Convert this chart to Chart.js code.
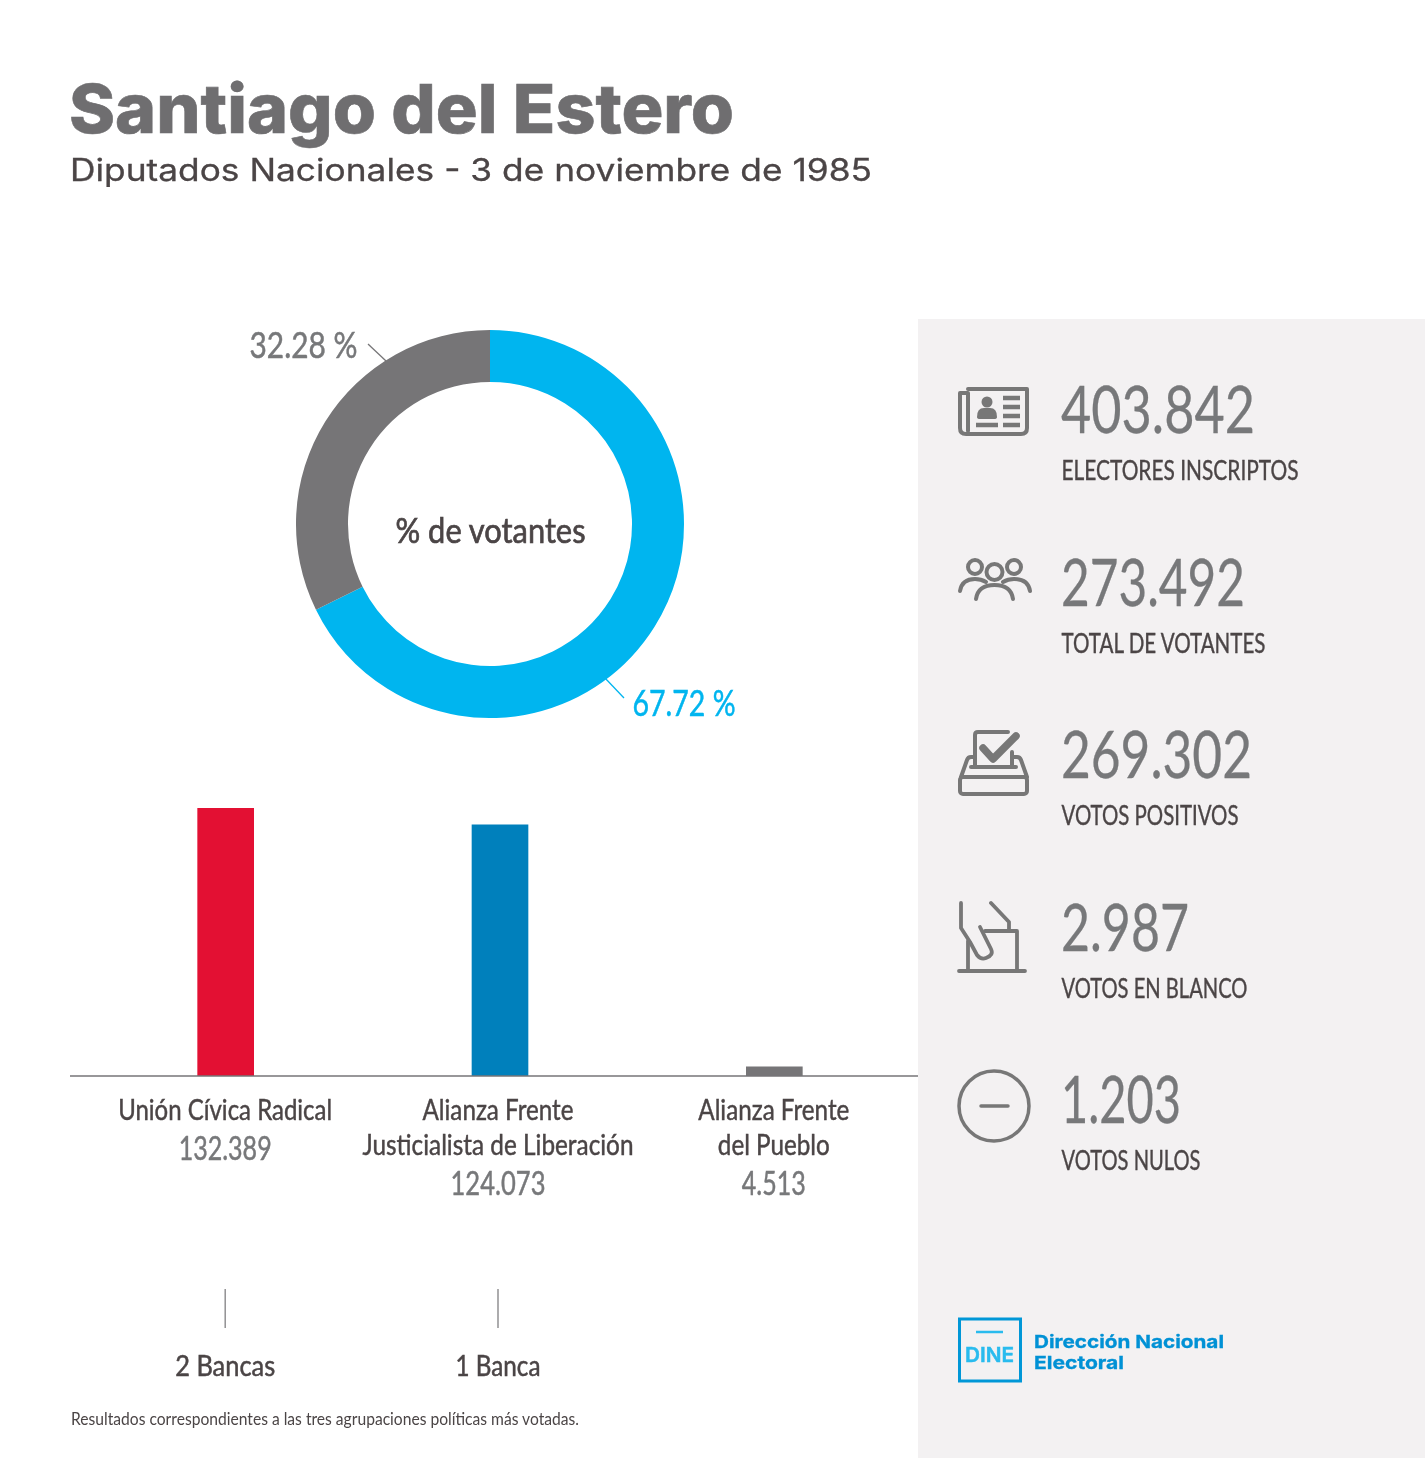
<!DOCTYPE html>
<html lang="es">
<head>
<meta charset="utf-8">
<title>Santiago del Estero</title>
<script src="https://cdn.jsdelivr.net/npm/chart.js@4"></script>
<style>
  html, body { margin: 0; padding: 0; background: #fff; }
  #page { position: relative; width: 1425px; height: 1458px; overflow: hidden; }
  #panel { position: absolute; left: 918px; top: 319px; width: 507px; height: 1139px; background: #f3f1f2; }
  canvas { position: absolute; }
  #donut { left: 295.5px; top: 329.5px; }
  #bars { left: 71px; top: 808px; }
  #overlay { position: absolute; left: 0; top: 0; }
  .icon { fill: none; stroke: #777; stroke-width: 3.5; stroke-linecap: round; stroke-linejoin: round; }
  .icon .solid { fill: #777; stroke: none; }
</style>
</head>
<body>
<div id="page">
  <div id="panel"></div>
  <canvas id="donut" width="388" height="388"></canvas>
  <canvas id="bars" width="847" height="268"></canvas>
  <svg id="overlay" width="1425" height="1458" xmlns="http://www.w3.org/2000/svg">
    <!-- padron -->
    <g class="icon">
      <path d="M968 389H1027V428Q1027 434 1021 434H966Q960 434 960 428V393H968V431" stroke-width="4"/>
      <circle class="solid" cx="987" cy="402" r="5.5"/>
      <path class="solid" d="M977 417Q977 408 984 408H990Q997 408 997 417Q997 419 994 419H980Q977 419 977 417Z"/>
      <path d="M1003 398H1020M1003 407H1020M1003 416H1020M1003 425H1020M976 425H998" stroke-linecap="butt" stroke-width="4.500"/>
    </g>
    <!-- votantes -->
    <g class="icon" style="stroke-width:4">
      <circle cx="975" cy="567" r="7"/>
      <circle cx="994.5" cy="572" r="8"/>
      <circle cx="1014" cy="567" r="7"/>
      <path d="M960 591Q962 579 975 579Q981 579 986 582"/>
      <path d="M976 599Q978 585 994.500 585Q1011 585 1013 599"/>
      <path d="M1030 591Q1028 579 1014 579Q1008 579 1003 582"/>
    </g>
    <!-- urna con tilde -->
    <g class="icon" style="stroke-width:4">
      <rect x="960" y="777" width="67" height="17" rx="3"/>
      <path d="M961 777L967 760Q968 757 971 757H975M1012 757H1017Q1020 757 1021 760L1027 777"/>
      <path d="M975 766V735Q975 732 978 732H1008M1012 752V766M971 767H1016"/>
      <path d="M983 748L993 759L1016 736" stroke-width="7.500"/>
    </g>
    <!-- voto en blanco -->
    <g class="icon" style="stroke-width:3.800">
      <path d="M961 903V928L970 942L977 955Q981 960 986 958Q994 955 991 949L980 927"/>
      <path d="M968 941V970M985 931H1017V970M959 971H1025M991 903L1009 922V931"/>
    </g>
    <!-- voto nulo -->
    <g class="icon">
      <circle cx="994" cy="1106" r="35"/>
      <path d="M981 1106H1008"/>
    </g>
    <!-- logo -->
    <rect x="959.500" y="1319" width="61" height="62" fill="none" stroke="#0097d7" stroke-width="3"/>
    <path d="M976 1332H1003" stroke="#29bbee" stroke-width="2.500"/>
  </svg>
</div>
<script>
// datos
var turnoutLabels = ['Votantes', 'No votantes'];
var turnoutShare = [67.72, 32.28];
var parties = [['Unión Cívica Radical'], ['Alianza Frente', 'Justicialista de Liberación'], ['Alianza Frente', 'del Pueblo']];
var partyVotes = [132389, 124073, 4513];
var partyBancas = ['2 Bancas', '1 Banca', ''];
var statValues = ['403.842', '273.492', '269.302', '2.987', '1.203'];
var statLabels = ['ELECTORES INSCRIPTOS', 'TOTAL DE VOTANTES', 'VOTOS POSITIVOS', 'VOTOS EN BLANCO', 'VOTOS NULOS'];

var blue = '#00b5ef';
var grey = '#767577';
var dark = '#4b4546';
var textGrey = '#77787a';

var svg = document.getElementById('overlay');

// texto svg: y es la linea base, w el ancho final, bold engorda un poco el trazo
function label(text, x, y, size, color, w, opts) {
    opts = opts || {};
    var t = document.createElementNS('http://www.w3.org/2000/svg', 'text');
    t.textContent = text;
    t.setAttribute('x', x);
    t.setAttribute('y', y);
    t.setAttribute('fill', color);
    t.setAttribute('font-size', size);
    t.setAttribute('font-family', opts.family || 'Lato');
    t.setAttribute('font-weight', opts.weight || 400);
    t.setAttribute('text-anchor', opts.anchor || 'start');
    if (opts.bold) {
        t.setAttribute('stroke', color);
        t.setAttribute('stroke-width', opts.bold);
    }
    if (w) {
        t.setAttribute('textLength', w);
        t.setAttribute('lengthAdjust', 'spacingAndGlyphs');
    }
    svg.appendChild(t);
}

function line(x1, y1, x2, y2, color, width) {
    var l = document.createElementNS('http://www.w3.org/2000/svg', 'line');
    l.setAttribute('x1', x1);
    l.setAttribute('y1', y1);
    l.setAttribute('x2', x2);
    l.setAttribute('y2', y2);
    l.setAttribute('stroke', color);
    l.setAttribute('stroke-width', width);
    svg.appendChild(l);
}

// dona

new Chart(document.getElementById('donut').getContext('2d'), {
    type: 'doughnut',
    data: {
        labels: turnoutLabels,
        datasets: [{
            data: turnoutShare,
            backgroundColor: [blue, grey],
            borderWidth: 0
        }]
    },
    options: {
        responsive: false,
        animation: false,
        cutout: '73.2%',
        plugins: { legend: { display: false }, tooltip: { enabled: false } }
    }
});

// barras

var barChart = new Chart(document.getElementById('bars').getContext('2d'), {
    type: 'bar',
    data: {
        labels: parties,
        datasets: [{
            data: partyVotes,
            backgroundColor: ['#e31033', '#0080bc', '#767577'],
            borderWidth: 0,
            barThickness: 56
        }]
    },
    options: {
        responsive: false,
        animation: false,
        layout: { padding: { left: 17.5, right: 6.5 } },
        scales: {
            x: { display: false },
            y: { display: false, min: 0, max: partyVotes[0] }
        },
        plugins: { legend: { display: false }, tooltip: { enabled: false } }
    }
});

// titulos
label('Santiago del Estero', 69, 133, 68, '#6f6e70', 665, { family: 'Inter', weight: 800, bold: 0.6 });
label('Diputados Nacionales - 3 de noviembre de 1985', 70, 181, 31, dark, 802, { family: 'Inter', bold: 0.3 });

// etiquetas de la dona
label(turnoutShare[1].toFixed(2) + ' %', 249.5, 358, 36, textGrey, 108, { bold: 0.5 });
label(turnoutShare[0].toFixed(2) + ' %', 632.5, 716, 36, blue, 103, { bold: 0.5 });
label('% de votantes', 395.5, 543, 35, dark, 190, { bold: 0.7 });
line(368, 344, 386, 361, grey, 1.3);
line(605, 678, 624, 698, blue, 1.3);

// etiquetas de las barras
var canvasLeft = 71, canvasTop = 808;
var baseY = canvasTop + barChart.scales.y.getPixelForValue(0);
line(70, baseY, 918, baseY, grey, 1.3);

var nameWidths = [[214], [151, 271], [151, 112]];
var voteWidths = [93, 95, 64];
var bancaWidths = [100, 85, 0];

parties.forEach(function (name, i) {
    var x = canvasLeft + barChart.scales.x.getPixelForValue(i) - (i === 1 ? 1.5 : 0);
    name.forEach(function (part, j) {
        label(part, x - 0.5, 1120 + j * 35, 28, dark, nameWidths[i][j], { anchor: 'middle', bold: 0.45 });
    });
    var voteY = name.length === 1 ? 1160 : 1195;
    var votes = partyVotes[i].toLocaleString('de-DE');
    label(votes, x - 0.5, voteY, 33, textGrey, voteWidths[i], { anchor: 'middle', bold: 0.5 });
    if (partyBancas[i]) {
        line(x - 0.5, 1289, x - 0.5, 1328, grey, 1.2);
        label(partyBancas[i], x - 0.5, 1375.5, 28, dark, bancaWidths[i], { anchor: 'middle', bold: 0.5 });
    }
});

label('Resultados correspondientes a las tres agrupaciones políticas más votadas.', 71, 1424.5, 17, dark, 508);

// panel derecho
var statWidths = [194, 184, 191, 128, 120];
var statLabelWidths = [237, 204, 177, 186, 139];

statValues.forEach(function (v, i) {
    var y = 433 + i * 172.5;
    label(v, 1061, y, 65, textGrey, statWidths[i], { bold: 0.3 });
    label(statLabels[i], 1061.5, y + 47, 27, dark, statLabelWidths[i], { bold: 0.4 });
});

// logo
label('DINE', 965, 1362, 20, '#29bbee', 49, { family: 'Inter', weight: 600, bold: 0.5 });
label('Dirección Nacional', 1034, 1348, 17.4, '#0091d5', 190, { family: 'Inter', weight: 700, bold: 0.3 });
label('Electoral', 1034, 1369, 17.4, '#0091d5', 90, { family: 'Inter', weight: 700, bold: 0.3 });
</script>
</body>
</html>
